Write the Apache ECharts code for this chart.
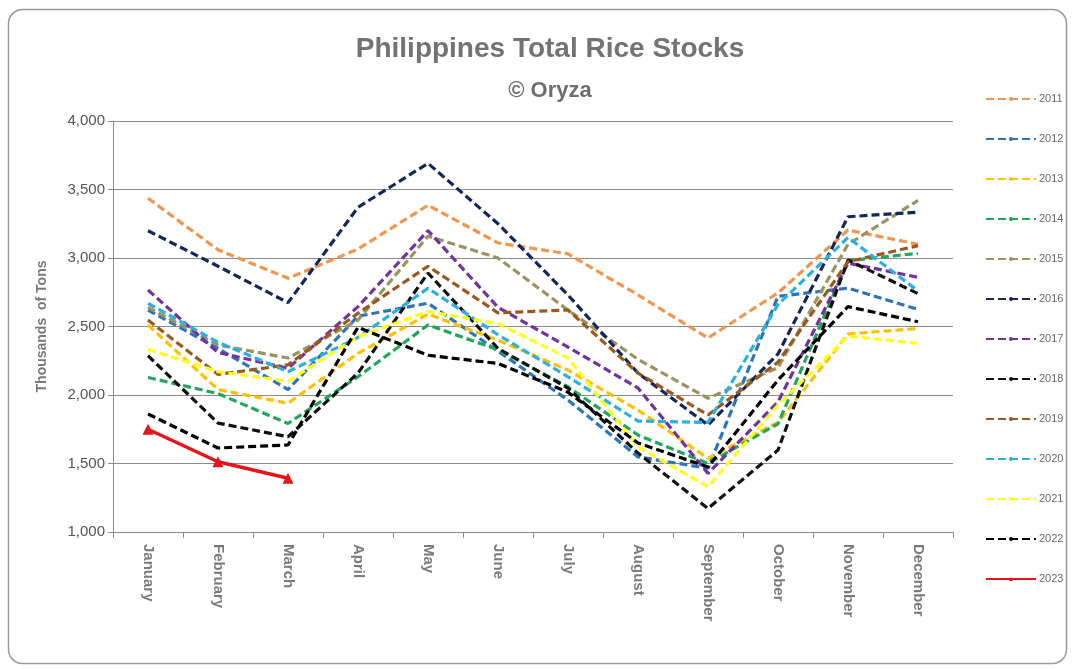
<!DOCTYPE html>
<html>
<head>
<meta charset="utf-8">
<script src="https://cdn.jsdelivr.net/npm/echarts@6/dist/echarts.min.js"></script>
<style>
html,body{margin:0;padding:0;background:#fff;}
#chart{width:1074px;height:669px;}
</style>
</head>
<body>
<div id="chart"></div>
<script>
const months = ['January','February','March','April','May','June','July','August','September','October','November','December'];
const yTicks = [1000, 1500, 2000, 2500, 3000, 3500, 4000];

const s2011 = [3436, 3060, 2852, 3065, 3385, 3110, 3030, 2730, 2416, 2745, 3204, 3100];
const s2012 = [2620, 2340, 2040, 2575, 2670, 2320, 1963, 1548, 1465, 2720, 2780, 2625];
const s2013 = [2511, 2040, 1940, 2304, 2590, 2400, 2182, 1890, 1538, 1800, 2445, 2486];
const s2014 = [2128, 2010, 1792, 2133, 2511, 2330, 2060, 1708, 1501, 1790, 2980, 3034];
const s2015 = [2640, 2365, 2270, 2547, 3160, 3000, 2620, 2260, 1976, 2200, 3100, 3420];
const s2016 = [3199, 2940, 2674, 3370, 3691, 3250, 2730, 2160, 1781, 2300, 3301, 3335];
const s2017 = [2766, 2310, 2195, 2645, 3200, 2640, 2350, 2051, 1428, 1950, 2963, 2859];
const s2018 = [2287, 1795, 1695, 2160, 2890, 2340, 2050, 1576, 1172, 1598, 2985, 2740];
const s2019 = [2547, 2150, 2220, 2597, 2940, 2600, 2620, 2160, 1854, 2240, 2973, 3090];
const s2020 = [2669, 2385, 2170, 2420, 2779, 2440, 2133, 1810, 1800, 2660, 3150, 2760];
const s2021 = [2333, 2170, 2100, 2425, 2610, 2520, 2270, 1622, 1330, 1927, 2430, 2377];
const s2022 = [1861, 1613, 1635, 2494, 2290, 2230, 2020, 1650, 1474, 2109, 2645, 2535];
const s2023 = [1750, 1513, 1392];

const years = ['2011','2012','2013','2014','2015','2016','2017','2018','2019','2020','2021','2022'];
const dataByYear = [s2011,s2012,s2013,s2014,s2015,s2016,s2017,s2018,s2019,s2020,s2021,s2022];
const colors = ['#F0964E','#2E75B6','#FFC000','#1FA85A','#9A9462','#13275A','#7432A0','#111111','#9A5A1E','#2BB0E0','#FFFF1A','#000000'];

const FONT = "'Liberation Sans',Arial,sans-serif";

const series = years.map((y, i) => ({
  name: y,
  type: 'line',
  data: dataByYear[i],
  symbol: 'none',
  lineStyle: { color: colors[i], width: 3.2, type: [8, 4] },
  itemStyle: { color: colors[i] },
  z: 2
}));
series.push({
  name: '2023',
  type: 'line',
  data: s2023,
  symbol: 'triangle',
  symbolSize: 11,
  lineStyle: { color: '#E8141B', width: 3.5 },
  itemStyle: { color: '#E8141B' },
  z: 5
});

const chart = echarts.init(document.getElementById('chart'), null, { renderer: 'canvas' });
chart.setOption({
  backgroundColor: '#fff',
  animation: false,
  textStyle: { fontFamily: FONT },
  graphic: [{
    type: 'rect', shape: { x: 8.5, y: 9.5, width: 1058, height: 654, r: 14 },
    style: { fill: 'none', stroke: '#9a9a9a', lineWidth: 1.5 }, z: -1
  }],
  title: [{
    text: 'Philippines Total Rice Stocks',
    left: 545, top: 30, textAlign: 'center',
    textStyle: { fontFamily: FONT, fontSize: 28, fontWeight: 'bold', color: '#737373' }
  }, {
    text: '© Oryza',
    left: 545, top: 75, textAlign: 'center',
    textStyle: { fontFamily: FONT, fontSize: 22, fontWeight: 'bold', color: '#6e6e6e' }
  }],
  legend: {
    orient: 'vertical',
    left: 980, top: 87,
    itemWidth: 50, itemHeight: 5, itemGap: 26,
    textStyle: { fontFamily: FONT, fontSize: 11, color: '#6a6a6a', padding: [0,0,0,-2], lineHeight: 14 },
    data: years.concat(['2023'])
  },
  grid: { left: 113, right: 121, top: 121, bottom: 137 },
  xAxis: {
    type: 'category',
    data: months,
    boundaryGap: true,
    axisLine: { lineStyle: { color: '#8c8c8c', width: 1 } },
    axisTick: { show: true, length: 6, alignWithLabel: false, lineStyle: { color: '#8c8c8c' } },
    axisLabel: { rotate: -90, margin: 12, fontFamily: FONT, fontSize: 15, fontWeight: 'bold', color: '#7a7a7a' }
  },
  yAxis: {
    type: 'value',
    min: yTicks[0], max: yTicks[yTicks.length - 1], interval: 500,
    name: 'Thousands  of Tons',
    nameLocation: 'middle', nameGap: 64, nameRotate: 90,
    nameTextStyle: { fontFamily: FONT, fontSize: 14, fontWeight: 'bold', color: '#7a7a7a' },
    axisLine: { show: true, lineStyle: { color: '#8c8c8c' } },
    axisTick: { show: true, length: 5, lineStyle: { color: '#8c8c8c' } },
    axisLabel: {
      fontFamily: FONT, fontSize: 15, color: '#555',
      formatter: v => v.toLocaleString('en-US')
    },
    splitLine: { lineStyle: { color: '#8c8c8c', width: 1.2 } }
  },
  series: series
});
</script>
</body>
</html>
